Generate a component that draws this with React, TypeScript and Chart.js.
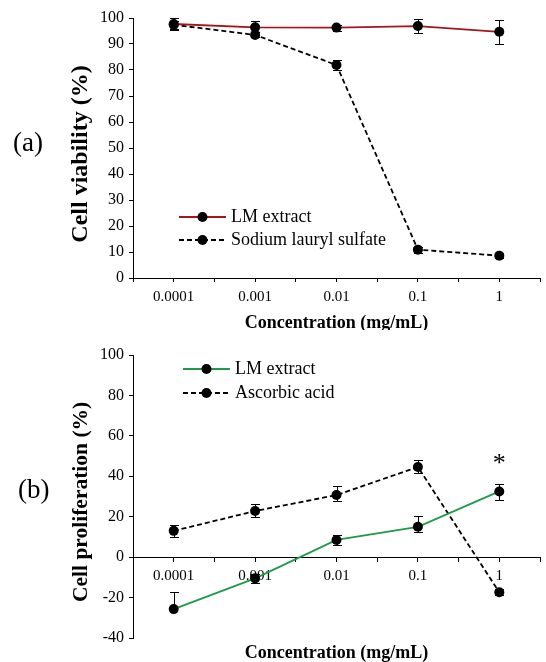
import React, { useEffect, useRef } from "react";
import { Chart, registerables } from "chart.js";

Chart.register(...registerables);

// ---------- data ----------
const categories = ["0.0001", "0.001", "0.01", "0.1", "1"];

const viabilityLM = [97.7, 96.4, 96.3, 96.9, 94.7];
const viabilityLMErr = [2.2, 2.5, 1.2, 2.7, 4.6];
const viabilitySLS = [97.4, 93.5, 81.9, 10.9, 8.6];
const viabilitySLSErr = [1.5, 1.0, 1.8, 1.2, 0.8];

const prolifLM = [-25.7, -10.5, 8.5, 15.0, 32.5];
const prolifLMErrUp = [8.7, 2.2, 2.5, 5.5, 3.8];
const prolifLMErrDown = [0, 2.2, 2.5, 2.5, 4.2];
const prolifAA = [13.0, 22.8, 30.7, 44.6, -17.4];
const prolifAAErrUp = [3.0, 3.3, 4.6, 3.6, 1.5];
const prolifAAErrDown = [3.0, 3.0, 3.0, 3.0, 1.5];

const viabilityAxis = [0, 100, 10];
const prolifAxis = [-40, 100, 20];

const starIndex = 4;
const starValue = 46;

const FONT = '"Liberation Serif", "Times New Roman", serif';
const RED = "#A3161C";
const GREEN = "#1F9A48";

const toPoints = (vals: number[]) => vals.map((v, i) => ({ x: i, y: v }));

// ---------- plugins ----------
const errorBarPlugin = {
  id: "errorBars",
  beforeDatasetsDraw(chart: any) {
    const ctx = chart.ctx;
    const ys = chart.scales.y;
    chart.data.datasets.forEach((ds: any, di: number) => {
      if (!ds.errUp) return;
      const meta = chart.getDatasetMeta(di);
      meta.data.forEach((pt: any, i: number) => {
        const v = ds.data[i].y;
        const x = Math.round(pt.x) + 0.5;
        const cap = 4.5;
        ctx.save();
        ctx.strokeStyle = "#000";
        ctx.lineWidth = 1;
        ctx.setLineDash([]);
        const draw = (delta: number) => {
          if (!delta) return;
          const yy = Math.round(ys.getPixelForValue(v + delta)) + 0.5;
          ctx.beginPath();
          ctx.moveTo(x, pt.y);
          ctx.lineTo(x, yy);
          ctx.moveTo(x - cap, yy);
          ctx.lineTo(x + cap, yy);
          ctx.stroke();
        };
        draw(ds.errUp[i]);
        draw(-ds.errDown[i]);
        ctx.restore();
      });
    });
  },
};

const legendPlugin = {
  id: "inlineLegend",
  afterDraw(chart: any) {
    const opts = chart.options.plugins.inlineLegend;
    if (!opts) return;
    const ctx = chart.ctx;
    chart.data.datasets.forEach((ds: any, i: number) => {
      const y = opts.y + i * opts.rowGap;
      const x0 = opts.x;
      ctx.save();
      ctx.strokeStyle = ds.borderColor;
      ctx.lineWidth = ds.borderWidth;
      ctx.setLineDash(ds.borderDash || []);
      ctx.beginPath();
      ctx.moveTo(x0, y);
      ctx.lineTo(x0 + 47, y);
      ctx.stroke();
      ctx.setLineDash([]);
      ctx.fillStyle = "#000";
      ctx.beginPath();
      ctx.arc(x0 + 23.5, y, 5, 0, Math.PI * 2);
      ctx.fill();
      ctx.font = `18px ${FONT}`;
      ctx.textBaseline = "middle";
      ctx.textAlign = "left";
      ctx.fillText(ds.label, x0 + 52, y);
      ctx.restore();
    });
  },
};

const starPlugin = {
  id: "starNote",
  afterDraw(chart: any) {
    const opts = chart.options.plugins.starNote;
    if (!opts) return;
    const ctx = chart.ctx;
    const x = chart.scales.x.getPixelForValue(opts.index);
    const y = chart.scales.y.getPixelForValue(opts.value);
    ctx.save();
    ctx.fillStyle = "#000";
    ctx.font = `26px ${FONT}`;
    ctx.textAlign = "center";
    ctx.textBaseline = "middle";
    ctx.fillText(opts.text, x, y);
    ctx.restore();
  },
};

// ---------- config helpers ----------
const lineDataset = (label: string, vals: number[], up: number[], down: number[], color: string, dashed: boolean) => ({
  label,
  data: toPoints(vals),
  errUp: up,
  errDown: down,
  borderColor: color,
  borderWidth: 1.8,
  borderDash: dashed ? [5, 3] : [],
  pointRadius: 5,
  pointHoverRadius: 5,
  pointBackgroundColor: "#000",
  pointBorderWidth: 0,
  tension: 0,
  fill: false,
});

const yAxis = (range: number[], title: string, titleSize: number) => ({
  type: "linear",
  min: range[0],
  max: range[1],
  ticks: {
    stepSize: range[2],
    color: "#000",
    font: { family: FONT, size: 16 },
    padding: 5,
  },
  grid: { drawOnChartArea: false, drawTicks: true, tickLength: 4, color: "#000", lineWidth: 1 },
  border: { display: true, color: "#000", width: 1 },
  title: {
    display: true,
    text: title,
    color: "#000",
    font: { family: FONT, size: titleSize, weight: "bold", lineHeight: 1 },
    padding: { top: 81 - titleSize / 2, bottom: 0 },
  },
  afterFit: (s: any) => {
    s.width = 133;
  },
});

const xTicks = {
  stepSize: 0.5,
  autoSkip: false,
  maxRotation: 0,
  minRotation: 0,
  color: "#000",
  font: { family: FONT, size: 15 },
  padding: 6,
  callback: (v: number) => (Number.isInteger(v) ? categories[v] : ""),
};

const xTitle = (bottom: number) => ({
  display: true,
  text: "Concentration (mg/mL)",
  color: "#000",
  font: { family: FONT, size: 18, weight: "bold", lineHeight: 1 },
  padding: { top: 0, bottom },
});

const configA: any = {
  type: "line",
  data: {
    datasets: [
      lineDataset("LM extract", viabilityLM, viabilityLMErr, viabilityLMErr, RED, false),
      lineDataset("Sodium lauryl sulfate", viabilitySLS, viabilitySLSErr, viabilitySLSErr, "#000", true),
    ],
  },
  options: {
    responsive: false,
    animation: false,
    events: [],
    layout: { padding: { top: 18, left: 0, right: 0, bottom: 0 } },
    plugins: {
      legend: { display: false },
      tooltip: { enabled: false },
      inlineLegend: { x: 179, y: 217, rowGap: 23 },
    },
    scales: {
      x: {
        type: "linear",
        min: -0.5,
        max: 4.5,
        ticks: xTicks,
        grid: { drawOnChartArea: false, tickLength: 4, color: "#000" },
        border: { display: true, color: "#000", width: 1 },
        title: xTitle(-2),
        afterFit: (s: any) => {
          s.height = 52;
        },
      },
      y: yAxis(viabilityAxis, "Cell viability (%)  ", 24),
    },
  },
  plugins: [errorBarPlugin, legendPlugin],
};

const configB: any = {
  type: "line",
  data: {
    datasets: [
      lineDataset("LM extract", prolifLM, prolifLMErrUp, prolifLMErrDown, GREEN, false),
      lineDataset("Ascorbic acid", prolifAA, prolifAAErrUp, prolifAAErrDown, "#000", true),
    ],
  },
  options: {
    responsive: false,
    animation: false,
    events: [],
    layout: { padding: { top: 25, left: 0, right: 0, bottom: 0 } },
    plugins: {
      legend: { display: false },
      tooltip: { enabled: false },
      inlineLegend: { x: 183, y: 39, rowGap: 24 },
      starNote: { index: starIndex, value: starValue, text: "*" },
    },
    scales: {
      x: {
        type: "linear",
        position: { y: 0 },
        min: -0.5,
        max: 4.5,
        ticks: xTicks,
        grid: { drawOnChartArea: false, tickLength: 4, color: "#000" },
        border: { display: true, color: "#000", width: 1 },
        afterFit: (s: any) => {
          s.height = 0;
        },
      },
      x2: {
        type: "linear",
        position: "bottom",
        min: -0.5,
        max: 4.5,
        ticks: { display: false },
        grid: { display: false },
        border: { display: false },
        title: xTitle(0),
        afterFit: (s: any) => {
          s.height = 24;
        },
      },
      y: yAxis(prolifAxis, "Cell proliferation (%)  ", 21.5),
    },
  },
  plugins: [errorBarPlugin, legendPlugin, starPlugin],
};

export default function App() {
  const refA = useRef<HTMLCanvasElement>(null);
  const refB = useRef<HTMLCanvasElement>(null);

  useEffect(() => {
    const a = new Chart(refA.current as HTMLCanvasElement, configA);
    const b = new Chart(refB.current as HTMLCanvasElement, configB);
    return () => {
      a.destroy();
      b.destroy();
    };
  }, []);

  const panelLabel = (top: number, left: number): React.CSSProperties => ({
    position: "absolute",
    left,
    top,
    fontFamily: FONT,
    fontSize: 27,
    lineHeight: "27px",
    color: "#000",
  });

  return (
    <div
      style={{
        position: "fixed",
        left: 0,
        top: 0,
        width: 546,
        height: 662,
        background: "#fff",
        overflow: "hidden",
      }}
    >
      <canvas ref={refA} width={546} height={330} style={{ position: "absolute", left: 0, top: 0 }} />
      <canvas ref={refB} width={546} height={332} style={{ position: "absolute", left: 0, top: 330 }} />
      <div style={panelLabel(129, 13)}>(a)</div>
      <div style={panelLabel(476, 18)}>(b)</div>
    </div>
  );
}
